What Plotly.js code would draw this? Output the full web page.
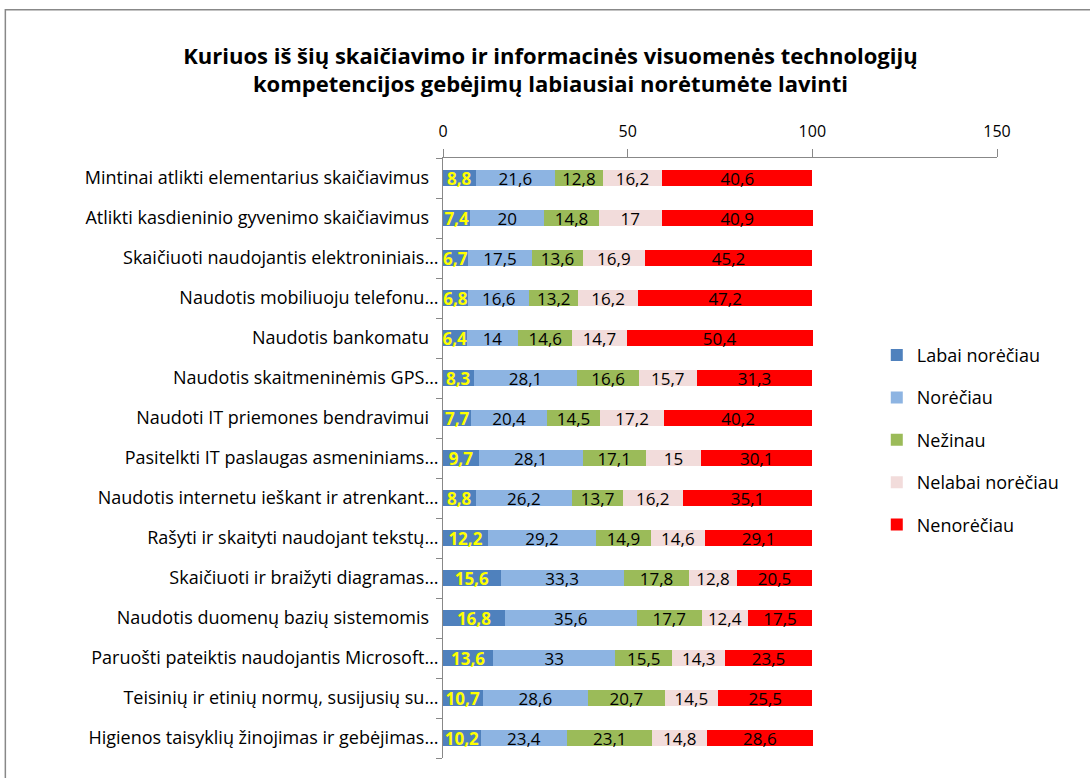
<!DOCTYPE html>
<html>
<head>
<meta charset="utf-8">
<script src="https://cdn.plot.ly/plotly-3.0.1.min.js"></script>
<style>
  html, body { margin: 0; padding: 0; background: #fff; }
  #chart { width: 1090px; height: 778px; }
</style>
</head>
<body>
<div id="chart"></div>
<script>
const categories = [
  'Mintinai atlikti elementarius skaičiavimus',
  'Atlikti kasdieninio gyvenimo skaičiavimus',
  'Skaičiuoti naudojantis elektroniniais…',
  'Naudotis mobiliuoju telefonu…',
  'Naudotis bankomatu',
  'Naudotis skaitmeninėmis GPS…',
  'Naudoti IT priemones bendravimui',
  'Pasitelkti IT paslaugas asmeniniams…',
  'Naudotis internetu ieškant ir atrenkant…',
  'Rašyti ir skaityti naudojant tekstų…',
  'Skaičiuoti ir braižyti diagramas…',
  'Naudotis duomenų bazių sistemomis',
  'Paruošti pateiktis naudojantis Microsoft…',
  'Teisinių ir etinių normų, susijusių su…',
  'Higienos taisyklių žinojimas ir gebėjimas…'
];

const labaiNoreciau = [8.8, 7.4, 6.7, 6.8, 6.4, 8.3, 7.7, 9.7, 8.8, 12.2, 15.6, 16.8, 13.6, 10.7, 10.2];
const noreciau      = [21.6, 20, 17.5, 16.6, 14, 28.1, 20.4, 28.1, 26.2, 29.2, 33.3, 35.6, 33, 28.6, 23.4];
const nezinau       = [12.8, 14.8, 13.6, 13.2, 14.6, 16.6, 14.5, 17.1, 13.7, 14.9, 17.8, 17.7, 15.5, 20.7, 23.1];
const nelabai       = [16.2, 17, 16.9, 16.2, 14.7, 15.7, 17.2, 15, 16.2, 14.6, 12.8, 12.4, 14.3, 14.5, 14.8];
const nenoreciau    = [40.6, 40.9, 45.2, 47.2, 50.4, 31.3, 40.2, 30.1, 35.1, 29.1, 20.5, 17.5, 23.5, 25.5, 28.6];

const seriesNames = ['Labai norėčiau', 'Norėčiau', 'Nežinau', 'Nelabai norėčiau', 'Nenorėčiau'];
const seriesValues = [labaiNoreciau, noreciau, nezinau, nelabai, nenoreciau];
const seriesColors = ['#4F81BD', '#8DB4E2', '#9BBB59', '#F2DCDB', '#FF0000'];

const xTicks = [0, 50, 100, 150];

const font = '"Open Sans", sans-serif';

// excel leaves a trailing space after labels that were not cut short
const tickText = categories.map(c => c.endsWith('…') ? c : c + '\u00A0\u00A0');

const traces = seriesValues.map((vals, i) => ({
  type: 'bar',
  orientation: 'h',
  name: seriesNames[i],
  legendgroup: 'g' + i,
  y: categories,
  x: vals,
  marker: { color: seriesColors[i] },
  width: 0.4,
  text: vals.map(v => String(v).replace('.', ',')),
  textposition: 'inside',
  insidetextanchor: 'middle',
  constraintext: 'none',
  textangle: 0,
  textfont: i === 0
    ? { family: font, size: 17, color: '#FFFF00', weight: 'bold' }
    : { family: font, size: 17, color: '#000' },
  hoverinfo: 'x+name'
}));

const layout = {
  width: 1090,
  height: 778,
  barmode: 'stack',
  paper_bgcolor: '#fff',
  plot_bgcolor: '#fff',
  font: { family: font, size: 18, color: '#000' },
  title: {
    text: '<b>Kuriuos iš šių skaičiavimo ir informacinės visuomenės technologijų<br>kompetencijos gebėjimų labiausiai norėtumėte lavinti</b>',
    font: { family: font, size: 22, color: '#000' },
    x: 0.505,
    xanchor: 'center',
    y: 0.918,
    yanchor: 'middle',
    yref: 'container'
  },
  margin: { l: 443, r: 93, t: 158, b: 20 },
  showlegend: true,
  legend: {
    x: 0.783,
    y: 0.702,
    xanchor: 'left',
    yanchor: 'top',
    bgcolor: 'rgba(255,255,255,0)',
    font: { family: font, size: 18, color: '#000' },
    traceorder: 'grouped',
    tracegroupgap: 16
  },
  xaxis: {
    side: 'top',
    range: [0, 150],
    tickvals: xTicks,
    showgrid: false,
    zeroline: false,
    showline: true,
    linecolor: '#888',
    ticks: 'outside',
    ticklen: 8,
    tickcolor: '#888',
    ticklabelstandoff: 6,
    tickfont: { family: font, size: 16 },
    fixedrange: true
  },
  yaxis: {
    autorange: 'reversed',
    tickmode: 'array',
    tickvals: categories,
    ticktext: tickText,
    showgrid: false,
    showline: true,
    linecolor: '#888',
    ticks: 'outside',
    tickson: 'boundaries',
    ticklen: 6,
    tickcolor: '#888',
    ticklabelstandoff: 0,
    tickfont: { family: font, size: 18 },
    fixedrange: true
  },
  shapes: [{
    type: 'rect',
    xref: 'paper',
    yref: 'paper',
    x0: -0.79, x1: 1.2,
    y0: -0.05, y1: 1.247,
    line: { color: '#888', width: 1.5 },
    fillcolor: 'rgba(0,0,0,0)',
    layer: 'below'
  }]
};

Plotly.newPlot('chart', traces, layout, { displayModeBar: false, staticPlot: true });
</script>
</body>
</html>
